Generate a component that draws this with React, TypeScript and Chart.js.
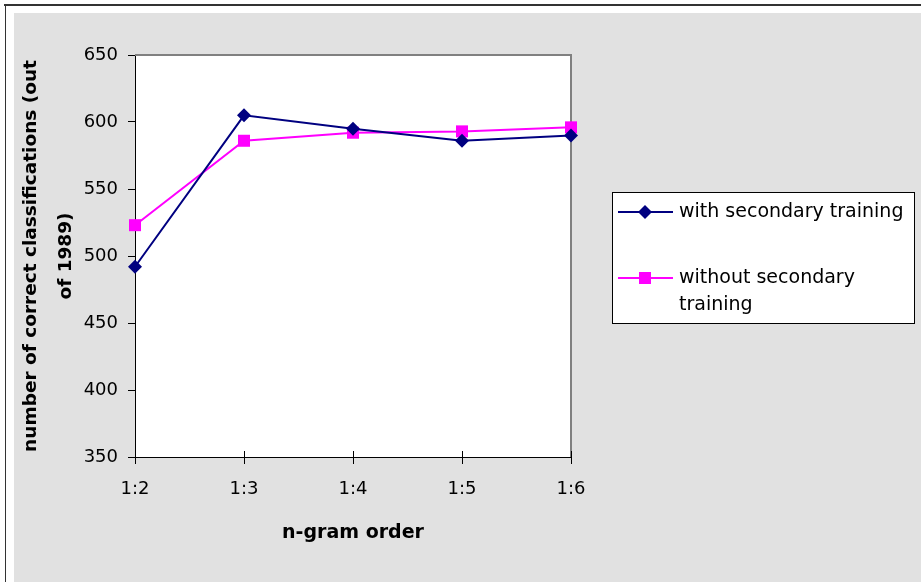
import React, { useEffect, useRef } from "react";
import { Chart, registerables } from "chart.js";

Chart.register(...registerables);

const categories = ["1:2", "1:3", "1:4", "1:5", "1:6"];
const withSecondary = [492, 605, 595, 586, 590];
const withoutSecondary = [523, 586, 592, 593, 596];
const seriesLabels = ["with secondary training", "without secondary training"];
const seriesColors = ["#000080", "#FF00FF"];
const yMin = 350;
const yMax = 650;
const yStep = 50;
const xTitle = "n-gram order";
const yTitle = ["number of correct classifications (out", "of 1989)"];

const FONT = '"DejaVu Sans", "Liberation Sans", Arial, sans-serif';

const backgroundPlugin = {
  id: "bgFrame",
  beforeDraw(chart: any) {
    const { ctx, width, height, chartArea } = chart;
    ctx.save();
    ctx.fillStyle = "#ffffff";
    ctx.fillRect(0, 0, width, height);
    ctx.fillStyle = "#e1e1e1";
    ctx.fillRect(14, 13, width - 14, height - 13);
    ctx.fillStyle = "#333333";
    ctx.fillRect(4, 4, width - 4, 2);
    ctx.fillRect(5, 4, 1, height - 4);
    ctx.fillStyle = "#ffffff";
    ctx.fillRect(chartArea.left, chartArea.top, chartArea.right - chartArea.left, chartArea.bottom - chartArea.top);
    ctx.restore();
  },
  beforeDatasetsDraw(chart: any) {
    const { ctx, chartArea } = chart;
    ctx.save();
    ctx.strokeStyle = "#808080";
    ctx.lineWidth = 2;
    ctx.beginPath();
    ctx.moveTo(chartArea.left, chartArea.top);
    ctx.lineTo(chartArea.right, chartArea.top);
    ctx.lineTo(chartArea.right, chartArea.bottom);
    ctx.stroke();
    // tick marks crossing the category axis (inner part)
    const xs = chart.scales.x;
    ctx.strokeStyle = "#000000";
    ctx.lineWidth = 1;
    ctx.beginPath();
    xs.ticks.forEach((_t: any, i: number) => {
      const px = Math.round(xs.getPixelForTick(i)) + 0.5;
      ctx.moveTo(px, chartArea.bottom - 6);
      ctx.lineTo(px, chartArea.bottom);
    });
    ctx.stroke();
    ctx.restore();
  },
};

function drawMarker(ctx: CanvasRenderingContext2D, style: string, x: number, y: number, color: string) {
  ctx.fillStyle = color;
  ctx.beginPath();
  if (style === "rectRot") {
    const r = 7;
    ctx.moveTo(x - r, y);
    ctx.lineTo(x, y - r);
    ctx.lineTo(x + r, y);
    ctx.lineTo(x, y + r);
    ctx.closePath();
  } else {
    const s = 6;
    ctx.rect(x - s, y - s, 2 * s, 2 * s);
  }
  ctx.fill();
}

const legendPlugin = {
  id: "boxLegend",
  afterDraw(chart: any) {
    const { ctx } = chart;
    ctx.save();
    const bx = 612.5, by = 192.5, bw = 302, bh = 131;
    ctx.fillStyle = "#ffffff";
    ctx.fillRect(bx, by, bw, bh);
    ctx.strokeStyle = "#000000";
    ctx.lineWidth = 1;
    ctx.strokeRect(bx, by, bw, bh);
    ctx.font = `19px ${FONT}`;
    ctx.textBaseline = "middle";
    ctx.textAlign = "left";
    const entryY = [212, 278];
    const maxW = 230;
    chart.data.datasets.forEach((ds: any, i: number) => {
      const y = entryY[i];
      ctx.strokeStyle = ds.borderColor;
      ctx.lineWidth = 2;
      ctx.beginPath();
      ctx.moveTo(618, y);
      ctx.lineTo(673, y);
      ctx.stroke();
      drawMarker(ctx, ds.pointStyle, 645, y, ds.borderColor);
      const words = String(ds.label).split(" ");
      const lines: string[] = [];
      let cur = "";
      words.forEach((w) => {
        const t = cur ? cur + " " + w : w;
        if (ctx.measureText(t).width > maxW && cur) {
          lines.push(cur);
          cur = w;
        } else cur = t;
      });
      if (cur) lines.push(cur);
      ctx.fillStyle = "#000000";
      lines.forEach((l, j) => ctx.fillText(l, 679, y + j * 27));
    });
    ctx.restore();
  },
};

export default function App() {
  const ref = useRef<HTMLCanvasElement>(null);
  useEffect(() => {
    if (!ref.current) return;
    const chart = new Chart(ref.current, {
      type: "line",
      data: {
        labels: categories,
        datasets: [
          {
            label: seriesLabels[0],
            data: withSecondary,
            borderColor: seriesColors[0],
            backgroundColor: seriesColors[0],
            borderWidth: 2,
            pointStyle: "rectRot",
            pointRadius: 7,
            pointBorderWidth: 0,
            tension: 0,
            clip: false,
          },
          {
            label: seriesLabels[1],
            data: withoutSecondary,
            borderColor: seriesColors[1],
            backgroundColor: seriesColors[1],
            borderWidth: 2,
            pointStyle: "rect",
            pointRadius: 8.5,
            pointBorderWidth: 0,
            tension: 0,
            clip: false,
          },
        ],
      } as any,
      options: {
        responsive: false,
        animation: false,
        devicePixelRatio: 1,
        layout: { padding: { left: 0, top: 55, right: 350, bottom: 0 } },
        plugins: { legend: { display: false }, tooltip: { enabled: false } },
        scales: {
          x: {
            type: "category",
            offset: false,
            afterFit: (s: any) => { s.height = 125; },
            grid: { display: true, drawOnChartArea: false, drawTicks: true, tickLength: 7, color: "#000000" },
            border: { display: true, color: "#000000", width: 1 },
            ticks: { color: "#000000", padding: 15, font: { family: FONT, size: 18 }, maxRotation: 0 },
            title: {
              display: true,
              text: xTitle,
              color: "#000000",
              font: { family: FONT, size: 19, weight: "bold" },
              padding: { top: 0, bottom: 38 },
            },
          },
          y: {
            type: "linear",
            min: yMin,
            max: yMax,
            afterFit: (s: any) => { s.width = 135; },
            grid: { display: true, drawOnChartArea: false, drawTicks: true, tickLength: 7, color: "#000000" },
            border: { display: true, color: "#000000", width: 1 },
            ticks: { stepSize: yStep, color: "#000000", padding: 10, font: { family: FONT, size: 18 } },
            title: {
              display: true,
              text: yTitle,
              color: "#000000",
              font: { family: FONT, size: 18.5, weight: "bold", lineHeight: "35px" },
              padding: { top: 14, bottom: 0 },
            },
          },
        },
      } as any,
      plugins: [backgroundPlugin, legendPlugin],
    });
    return () => chart.destroy();
  }, []);
  return (
    <div style={{ position: "absolute", left: 0, top: 0, width: 921, height: 582 }}>
      <canvas ref={ref} width={921} height={582} style={{ width: 921, height: 582, display: "block" }} />
    </div>
  );
}
